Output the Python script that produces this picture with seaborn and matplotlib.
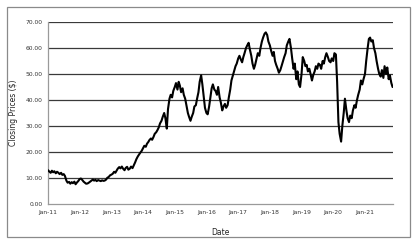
import numpy as np
import pandas as pd
import matplotlib
matplotlib.use("Agg")
import matplotlib.pyplot as plt
import matplotlib.dates as mdates
import seaborn as sns

# Semi-monthly closing prices (1st and 15th of each month), Jan 2011 - Nov 2021
prices_2011 = [13.0, 12.5, 12.0, 12.8, 12.2, 12.6, 11.8, 12.4, 12.0, 11.5, 12.0, 11.2,
               11.5, 10.8, 9.0, 8.2, 8.5, 7.8, 8.4, 8.0, 8.6, 7.6, 8.3, 8.8]
prices_2012 = [9.6, 9.8, 9.2, 8.6, 8.2, 7.8, 7.9, 8.2, 8.6, 8.9, 9.4, 9.0,
               9.3, 8.8, 9.2, 9.0, 8.8, 9.1, 8.9, 9.0, 9.4, 10.1, 10.4, 11.0]
prices_2013 = [11.3, 11.6, 12.4, 12.0, 12.8, 13.6, 14.2, 13.7, 14.4, 13.6, 13.0, 13.9,
               14.3, 13.2, 13.6, 14.4, 13.8, 14.8, 16.0, 17.2, 18.3, 19.0, 19.8, 20.4]
prices_2014 = [21.5, 22.4, 22.0, 23.2, 23.8, 24.6, 25.2, 24.7, 25.8, 27.0, 27.6, 28.4,
               29.5, 31.0, 32.0, 33.5, 35.0, 33.0, 29.0, 36.5, 40.5, 42.0, 41.0, 43.5]
prices_2015 = [45.0, 46.5, 44.0, 47.0, 45.5, 43.0, 44.5, 42.0, 40.5, 38.0, 35.0, 33.5,
               32.0, 33.5, 35.0, 37.5, 38.0, 40.5, 43.0, 47.0, 49.5, 46.0, 41.0, 37.0]
prices_2016 = [35.0, 34.5, 37.5, 41.0, 44.5, 46.0, 44.0, 43.5, 42.0, 45.0, 41.0, 39.0,
               36.0, 37.5, 38.5, 37.0, 38.0, 41.0, 44.0, 47.5, 49.5, 51.0, 53.0, 54.0]
prices_2017 = [56.0, 57.0, 55.5, 54.5, 56.5, 58.0, 60.0, 61.0, 62.0, 59.5, 57.0, 54.0,
               52.0, 53.5, 56.0, 58.0, 57.0, 60.0, 62.5, 64.0, 65.5, 66.0, 65.0, 62.5]
prices_2018 = [61.0, 59.0, 57.0, 58.5, 55.0, 53.5, 52.0, 50.5, 51.5, 53.0, 55.0, 56.5,
               58.0, 61.0, 62.5, 63.5, 60.0, 56.0, 52.0, 54.0, 48.0, 51.0, 46.0, 45.0]
prices_2019 = [50.0, 56.5, 55.0, 53.0, 53.5, 51.0, 52.0, 50.0, 47.5, 49.5, 51.0, 53.0,
               52.0, 54.0, 53.5, 52.0, 55.0, 54.0, 56.5, 58.0, 56.5, 55.0, 54.5, 56.0]
prices_2020 = [55.0, 58.0, 57.5, 47.0, 31.5, 27.0, 24.0, 30.0, 35.0, 40.5, 36.0, 33.0,
               31.5, 34.0, 33.0, 36.0, 38.0, 37.0, 40.0, 42.0, 44.0, 47.5, 46.0, 48.0]
prices_2021 = [50.0, 55.0, 60.0, 63.5, 64.0, 62.5, 63.0, 60.0, 58.0, 55.0, 52.0, 50.0,
               49.0, 51.5, 48.5, 53.0, 50.0, 52.5, 48.0, 49.5, 46.5, 45.0]

prices = (prices_2011 + prices_2012 + prices_2013 + prices_2014 + prices_2015 +
          prices_2016 + prices_2017 + prices_2018 + prices_2019 + prices_2020 + prices_2021)

dates = []
for y in range(2011, 2022):
    for m in range(1, 13):
        for d in (1, 15):
            dates.append(pd.Timestamp(year=y, month=m, day=d))
dates = dates[:len(prices)]

df = pd.DataFrame({"Date": dates, "Price": prices})

y_ticks = [0, 10, 20, 30, 40, 50, 60, 70]
x_ticks = [pd.Timestamp(f"{y}-01-01") for y in range(2011, 2022)]

sns.set_style("white")
plt.rcParams['font.family'] = ['DejaVu Sans']

fig = plt.figure(figsize=(4.16, 2.44), dpi=100)
ax = fig.add_axes([48/416, 1 - 204/244, (393 - 48)/416, (204 - 22)/244])

# outer border
fig.patches.append(plt.Rectangle((7/416, 1 - 237/244), (410 - 7)/416, (237 - 7)/244,
                                 transform=fig.transFigure, fill=False,
                                 edgecolor="#8a8a8a", linewidth=0.9))

for yv in y_ticks[1:]:
    ax.axhline(yv, color="#3a3a3a", linewidth=0.9, zorder=1)

sns.lineplot(data=df, x="Date", y="Price", ax=ax, color="black", linewidth=1.5, zorder=3)

ax.set_ylim(0, 70)
ax.set_xlim(pd.Timestamp("2011-01-01"), pd.Timestamp("2021-11-20"))
ax.set_yticks(y_ticks)
ax.set_yticklabels([f"{v:.2f}" for v in y_ticks])
ax.set_xticks(x_ticks)
ax.xaxis.set_major_formatter(mdates.DateFormatter("%b-%y"))

for s in ["top", "right"]:
    ax.spines[s].set_visible(False)
for s in ["left", "bottom"]:
    ax.spines[s].set_color("#9a9a9a")
    ax.spines[s].set_linewidth(0.9)

ax.tick_params(axis="both", labelsize=4.3, colors="#333333", length=2, width=0.6,
               pad=2, direction="out")
ax.tick_params(axis="both", color="#9a9a9a")

ax.set_xlabel("Date", fontsize=5.5, color="#222222", labelpad=10)
ax.set_ylabel("Closing Prices ($)", fontsize=5.5, color="#222222", labelpad=5)

fig.savefig("out.png", dpi=100, facecolor="white")
